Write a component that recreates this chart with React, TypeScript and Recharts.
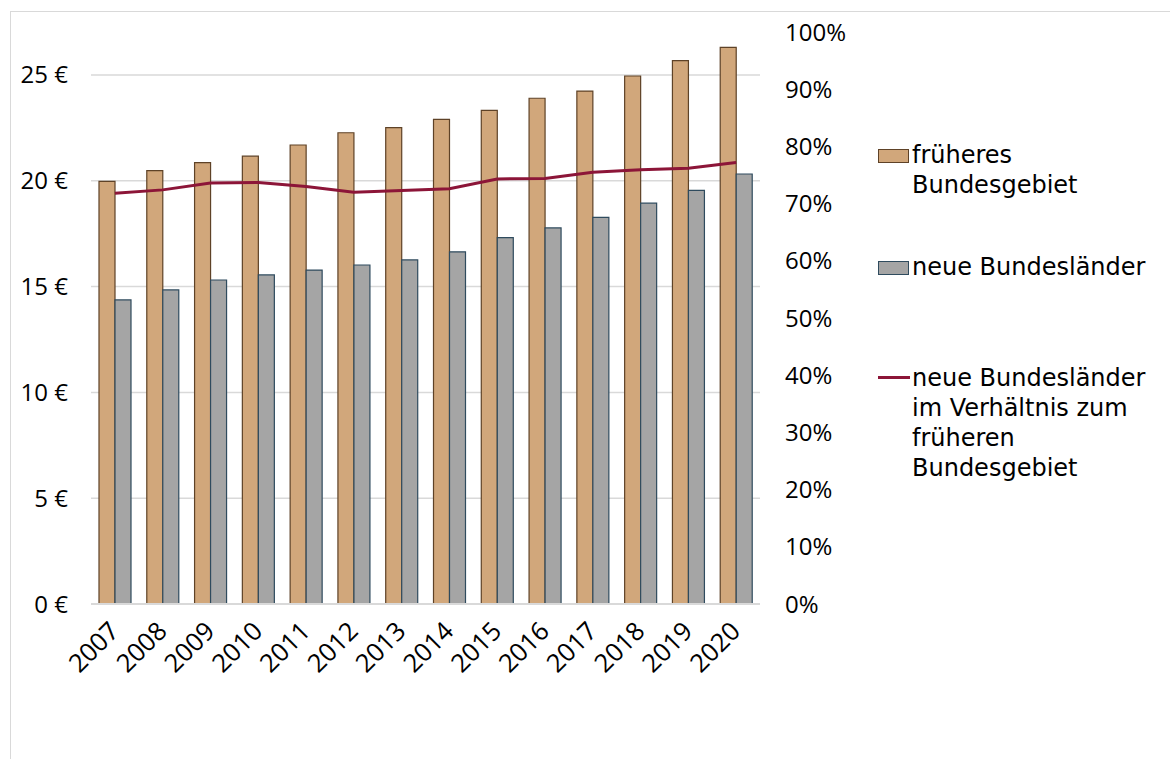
import { Bar, ComposedChart, CartesianGrid, Line, XAxis, YAxis } from "recharts";

const years = ["2007", "2008", "2009", "2010", "2011", "2012", "2013", "2014", "2015", "2016", "2017", "2018", "2019", "2020"];
const fruheres = [19.97, 20.48, 20.86, 21.16, 21.69, 22.27, 22.51, 22.9, 23.33, 23.9, 24.24, 24.95, 25.68, 26.3];
const neue = [14.37, 14.84, 15.31, 15.55, 15.78, 16.02, 16.26, 16.64, 17.31, 17.77, 18.27, 18.94, 19.55, 20.32];
const ratio = [0.718, 0.724, 0.736, 0.737, 0.73, 0.72, 0.723, 0.726, 0.743, 0.744, 0.755, 0.759, 0.762, 0.772];
const euroTicks = [0, 5, 10, 15, 20, 25];
const pctTicks = [0, 0.1, 0.2, 0.3, 0.4, 0.5, 0.6, 0.7, 0.8, 0.9, 1];
const EURO_MAX = 27.03;

const data = years.map((year, i) => ({
  year,
  fruheres: fruheres[i],
  neue: neue[i],
  ratio: ratio[i],
}));

const FONT = '"Open Sans", sans-serif';
const LEGEND_FONT = '"DejaVu Sans", sans-serif';
const TAN = "#d1a77b";
const TAN_EDGE = "#5e4227";
const GREY = "#a5a5a5";
const GREY_EDGE = "#2f4b5e";
const RED = "#8c1538";

const legendItems = [
  { key: "fruheres", lines: ["früheres", "Bundesgebiet"], top: 0, kind: "bar", fill: TAN, edge: TAN_EDGE },
  { key: "neue", lines: ["neue Bundesländer"], top: 112, kind: "bar", fill: GREY, edge: GREY_EDGE },
  { key: "ratio", lines: ["neue Bundesländer", "im Verhältnis zum", "früheren", "Bundesgebiet"], top: 223, kind: "line", fill: RED, edge: RED },
];

const ChartLegend = () => (
  <div style={{ position: "absolute", left: 878, top: 140, width: 290, height: 360, fontFamily: LEGEND_FONT, fontSize: 24, lineHeight: "30px", color: "#000" }}>
    {legendItems.map((item) => (
      <div key={item.key} style={{ position: "absolute", left: 0, top: item.top }}>
        {item.kind === "bar" ? (
          <div
            style={{
              position: "absolute",
              left: 0,
              top: 9,
              width: 29,
              height: 12,
              background: item.fill,
              border: `1.5px solid ${item.edge}`,
            }}
          />
        ) : (
          <div style={{ position: "absolute", left: 0, top: 13, width: 32, height: 3, background: item.fill }} />
        )}
        <div style={{ position: "absolute", left: 34, top: 0, whiteSpace: "nowrap" }}>
          {item.lines.map((l) => (
            <div key={l}>{l}</div>
          ))}
        </div>
      </div>
    ))}
  </div>
);

// grid lines only at the euro ticks, not at the top edge of the plot
const gridRows = ({ offset }: any) => euroTicks.map((t) => offset.top + offset.height * (1 - t / EURO_MAX));

export default function App() {
  return (
    <div style={{ position: "absolute", left: 0, top: 0, width: 1170, height: 759, overflow: "hidden", background: "#fff" }}>
      <div
        style={{
          position: "absolute",
          left: 10,
          top: 11,
          width: 1200,
          height: 800,
          borderTop: "1.5px solid #d9d9d9",
          borderLeft: "1.5px solid #d9d9d9",
        }}
      />
      <ComposedChart
        width={1170}
        height={759}
        data={data}
        margin={{ top: 32, right: 0, bottom: 0, left: 0 }}
        barGap={0}
        barSize={16}
        style={{ position: "absolute", left: 0, top: 0 }}
      >
        <CartesianGrid
          yAxisId="left"
          vertical={false}
          stroke="#d9d9d9"
          strokeWidth={1.5}
          horizontalCoordinatesGenerator={gridRows}
        />
        <XAxis
          dataKey="year"
          height={155}
          interval={0}
          tickSize={0}
          tickMargin={16}
          axisLine={{ stroke: "#d9d9d9", strokeWidth: 2 }}
          tickLine={false}
          angle={-45}
          textAnchor="end"
          tick={{ fontSize: 25.5, fill: "#000", fontFamily: FONT, dx: -7 }}
        />
        <YAxis
          yAxisId="left"
          orientation="left"
          width={91}
          domain={[0, EURO_MAX]}
          ticks={euroTicks}
          interval={0}
          tickFormatter={(v) => `${v} €`}
          axisLine={false}
          tickLine={false}
          tickSize={0}
          tickMargin={23}
          tick={{ fontSize: 24, fill: "#000", fontFamily: FONT }}
        />
        <YAxis
          yAxisId="right"
          orientation="right"
          width={410}
          domain={[0, 1]}
          ticks={pctTicks}
          interval={0}
          tickFormatter={(v) => `${Math.round(v * 100)}%`}
          axisLine={false}
          tickLine={false}
          tickSize={0}
          tickMargin={25}
          tick={{ fontSize: 24, fill: "#000", fontFamily: FONT, textAnchor: "start" }}
        />
        <Bar yAxisId="left" dataKey="fruheres" name="früheres Bundesgebiet" fill={TAN} stroke={TAN_EDGE} strokeWidth={1.2} isAnimationActive={false} />
        <Bar yAxisId="left" dataKey="neue" name="neue Bundesländer" fill={GREY} stroke={GREY_EDGE} strokeWidth={1.2} isAnimationActive={false} />
        <Line
          yAxisId="right"
          dataKey="ratio"
          name="neue Bundesländer im Verhältnis zum früheren Bundesgebiet"
          type="linear"
          stroke={RED}
          strokeWidth={3}
          dot={false}
          isAnimationActive={false}
        />
      </ComposedChart>
      <ChartLegend />
    </div>
  );
}
